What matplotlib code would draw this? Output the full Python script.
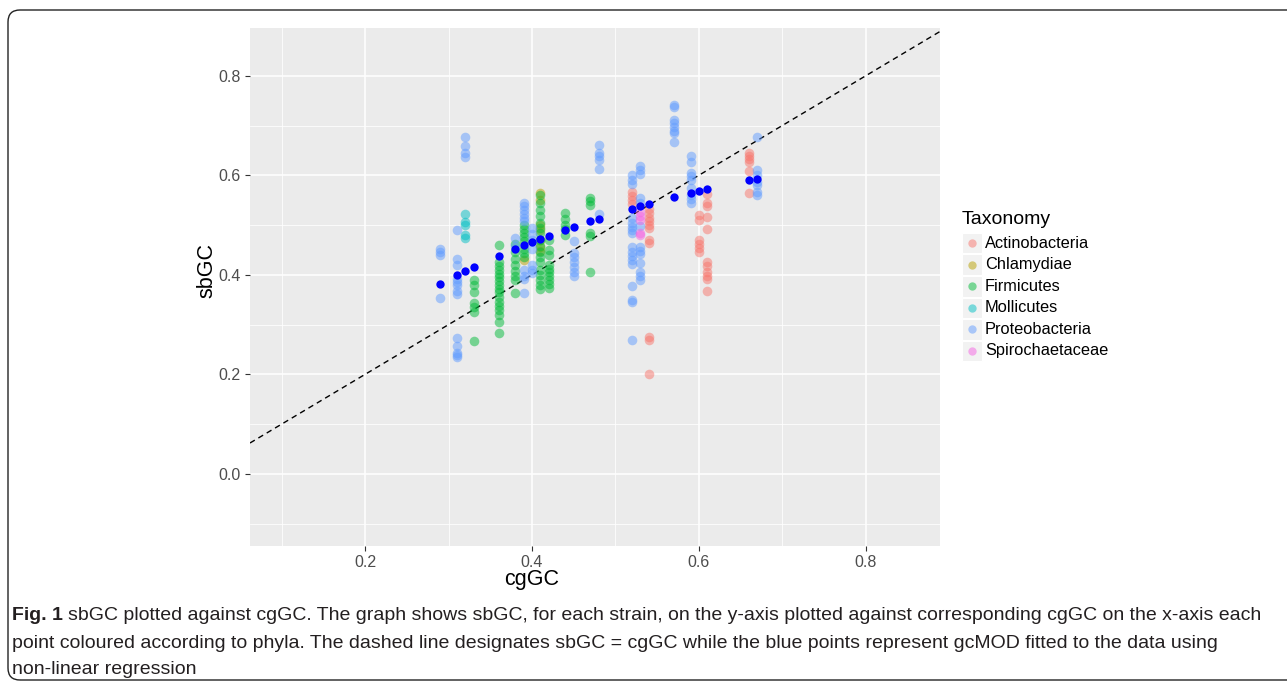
import matplotlib
matplotlib.use("Agg")
import matplotlib.pyplot as plt
from matplotlib.patches import FancyBboxPatch, Rectangle
from matplotlib.lines import Line2D

# ---- data (cgGC column -> sbGC values) ----
taxa = ["Actinobacteria", "Chlamydiae", "Firmicutes", "Mollicutes",
        "Proteobacteria", "Spirochaetaceae"]
colours = ["#F8766D", "#B79F00", "#00BA38", "#00BFC4", "#619CFF", "#F564E3"]

actino_x = [0.52, 0.54, 0.60, 0.61, 0.66]
actino_y = [[0.566, 0.558, 0.550, 0.543],
            [0.532, 0.524, 0.515, 0.508, 0.500, 0.494, 0.470, 0.464, 0.276, 0.268, 0.201],
            [0.520, 0.511, 0.470, 0.462, 0.454, 0.445],
            [0.563, 0.545, 0.538, 0.517, 0.492, 0.425, 0.418, 0.405, 0.398, 0.392, 0.368],
            [0.645, 0.638, 0.632, 0.626, 0.609, 0.565]]

chlam_x = [0.39, 0.41]
chlam_y = [[0.430],
           [0.565, 0.551, 0.500, 0.490, 0.470, 0.455, 0.447]]

firm_x = [0.33, 0.36, 0.38, 0.39, 0.41, 0.42, 0.44, 0.47]
firm_y = [[0.389, 0.379, 0.365, 0.344, 0.336, 0.326, 0.266],
          [0.460, 0.425, 0.418, 0.410, 0.402, 0.395, 0.388, 0.380, 0.372, 0.365,
           0.355, 0.345, 0.338, 0.330, 0.320, 0.305, 0.283],
          [0.462, 0.445, 0.432, 0.420, 0.408, 0.398, 0.390, 0.364],
          [0.500, 0.492, 0.484, 0.476, 0.468, 0.452, 0.444, 0.436],
          [0.560, 0.545, 0.530, 0.518, 0.505, 0.495, 0.485, 0.470, 0.458, 0.446,
           0.435, 0.425, 0.410, 0.400, 0.390, 0.380, 0.372],
          [0.470, 0.450, 0.440, 0.420, 0.412, 0.405, 0.398, 0.390, 0.382, 0.374],
          [0.524, 0.512, 0.500, 0.492, 0.480],
          [0.555, 0.548, 0.541, 0.484, 0.478, 0.405]]

molli_x = [0.32]
molli_y = [[0.522, 0.507, 0.500, 0.480, 0.474]]

proteo_x = [0.29, 0.31, 0.32, 0.38, 0.39, 0.40, 0.45, 0.48, 0.52, 0.53,
            0.57, 0.59, 0.67]
proteo_y = [[0.452, 0.445, 0.440, 0.354],
            [0.490, 0.431, 0.419, 0.392, 0.386, 0.380, 0.368, 0.362, 0.273, 0.257,
             0.243, 0.238, 0.234],
            [0.677, 0.658, 0.645, 0.637],
            [0.474, 0.458],
            [0.545, 0.538, 0.530, 0.522, 0.515, 0.508, 0.410, 0.398, 0.392, 0.364],
            [0.494, 0.482, 0.470, 0.452, 0.420, 0.410, 0.404],
            [0.467, 0.443, 0.435, 0.425, 0.415, 0.405, 0.397],
            [0.660, 0.645, 0.638, 0.630, 0.613, 0.522],
            [0.600, 0.590, 0.582, 0.515, 0.505, 0.497, 0.490, 0.484, 0.455, 0.445,
             0.438, 0.430, 0.422, 0.378, 0.350, 0.346, 0.268],
            [0.618, 0.610, 0.602, 0.555, 0.545, 0.498, 0.456, 0.448, 0.442, 0.424,
             0.406, 0.398, 0.390],
            [0.742, 0.738, 0.712, 0.705, 0.698, 0.690, 0.685, 0.666],
            [0.639, 0.627, 0.605, 0.598, 0.590, 0.575, 0.560, 0.552, 0.544],
            [0.676, 0.611, 0.600, 0.587, 0.580, 0.567, 0.561]]

spiro_x = [0.53]
spiro_y = [[0.527, 0.518, 0.510, 0.484, 0.480]]

# gcMOD fitted values
fit_x = [0.29, 0.31, 0.32, 0.33, 0.36, 0.38, 0.39, 0.40, 0.41, 0.42, 0.44, 0.45,
         0.47, 0.48, 0.52, 0.53, 0.54, 0.57, 0.59, 0.60, 0.61, 0.66, 0.67]
fit_y = [0.381, 0.399, 0.407, 0.416, 0.438, 0.452, 0.459, 0.466, 0.472, 0.478,
         0.490, 0.496, 0.508, 0.513, 0.533, 0.539, 0.543, 0.556, 0.564, 0.568,
         0.572, 0.590, 0.593]

W, H = 1287, 689
fig = plt.figure(figsize=(W / 100, H / 100), dpi=100)
plt.rcParams['font.family'] = ['Liberation Sans', 'DejaVu Sans']

ax = fig.add_axes([250 / W, 1 - 546 / H, 690 / W, 518 / H])
ax.set_facecolor("#EBEBEB")
ax.set_xlim(0.062, 0.889)
ax.set_ylim(-0.145, 0.896)
for s in ax.spines.values():
    s.set_visible(False)

ax.set_xticks([0.2, 0.4, 0.6, 0.8])
ax.set_yticks([0.0, 0.2, 0.4, 0.6, 0.8])
ax.set_xticks([0.1, 0.3, 0.5, 0.7], minor=True)
ax.set_yticks([-0.1, 0.1, 0.3, 0.5, 0.7], minor=True)
ax.grid(True, which="major", color="white", lw=1.1)
ax.grid(True, which="minor", color="white", lw=0.55)
ax.set_axisbelow(True)
ax.tick_params(which="major", length=3.5, width=0.8, color="#333333",
               labelcolor="#4D4D4D", labelsize=11.5, pad=3)
ax.tick_params(which="minor", length=0)

# dashed identity line
ax.axline((0, 0), slope=1, color="black", lw=1.0, ls=(0, (4, 3)), zorder=2)

groups = [(actino_x, actino_y), (chlam_x, chlam_y), (firm_x, firm_y),
          (molli_x, molli_y), (proteo_x, proteo_y), (spiro_x, spiro_y)]
for (xs, ys), c in zip(groups, colours):
    px, py = [], []
    for x, col in zip(xs, ys):
        px += [x] * len(col)
        py += col
    ax.scatter(px, py, s=48, color=c, alpha=0.5, lw=0, zorder=3)

ax.scatter(fit_x, fit_y, s=36, color="#0000FF", lw=0, zorder=4)

fig.text(532 / W, 1 - 580 / H, "cgGC", ha="center", va="center", fontsize=15.5)
fig.text(207 / W, 1 - 270 / H, "sbGC", ha="center", va="center", fontsize=15.5,
         rotation=90)

# legend
fig.text(962 / W, 1 - 220 / H, "Taxonomy", ha="left", va="center", fontsize=14)
for i, (name, c) in enumerate(zip(taxa, colours)):
    cy = 243 + i * 21.6
    fig.add_artist(Rectangle((962 / W, 1 - (cy + 10.3) / H), 20 / W, 20.6 / H,
                             transform=fig.transFigure, facecolor="#F2F2F2",
                             edgecolor="white", lw=0.8))
    fig.add_artist(Line2D([972 / W], [1 - cy / H], marker="o", ms=6, color=c,
                          alpha=0.5, mec="none", transform=fig.transFigure))
    fig.text(985 / W, 1 - cy / H, name, ha="left", va="center", fontsize=11.8)

# caption frame
fig.add_artist(FancyBboxPatch((0.08, 0.09), 14.0, 6.70, transform=fig.dpi_scale_trans,
                              boxstyle="round,pad=0,rounding_size=0.12",
                              facecolor="none", edgecolor="#222222", lw=1.0))

cap_font = ['Liberation Sans Narrow', 'Liberation Sans', 'DejaVu Sans']
cap_lines = ["sbGC plotted against cgGC. The graph shows sbGC, for each strain, on the y-axis plotted against corresponding cgGC on the x-axis each",
             "point coloured according to phyla. The dashed line designates sbGC = cgGC while the blue points represent gcMOD fitted to the data using",
             "non-linear regression"]
fig.canvas.draw()
t0 = fig.text(12 / W, 1 - 615 / H, "Fig. 1", ha="left", va="center",
              fontsize=14, fontweight="bold", family=cap_font, color="#231F20")
bb = t0.get_window_extent(fig.canvas.get_renderer())
fig.text((bb.x1 + 5) / W, 1 - 615 / H, cap_lines[0], ha="left", va="center",
         fontsize=14, family=cap_font, color="#231F20")
fig.text(12 / W, 1 - 643 / H, cap_lines[1], ha="left", va="center",
         fontsize=14, family=cap_font, color="#231F20")
fig.text(12 / W, 1 - 669 / H, cap_lines[2], ha="left", va="center",
         fontsize=14, family=cap_font, color="#231F20")

fig.savefig("out.png", dpi=100)
